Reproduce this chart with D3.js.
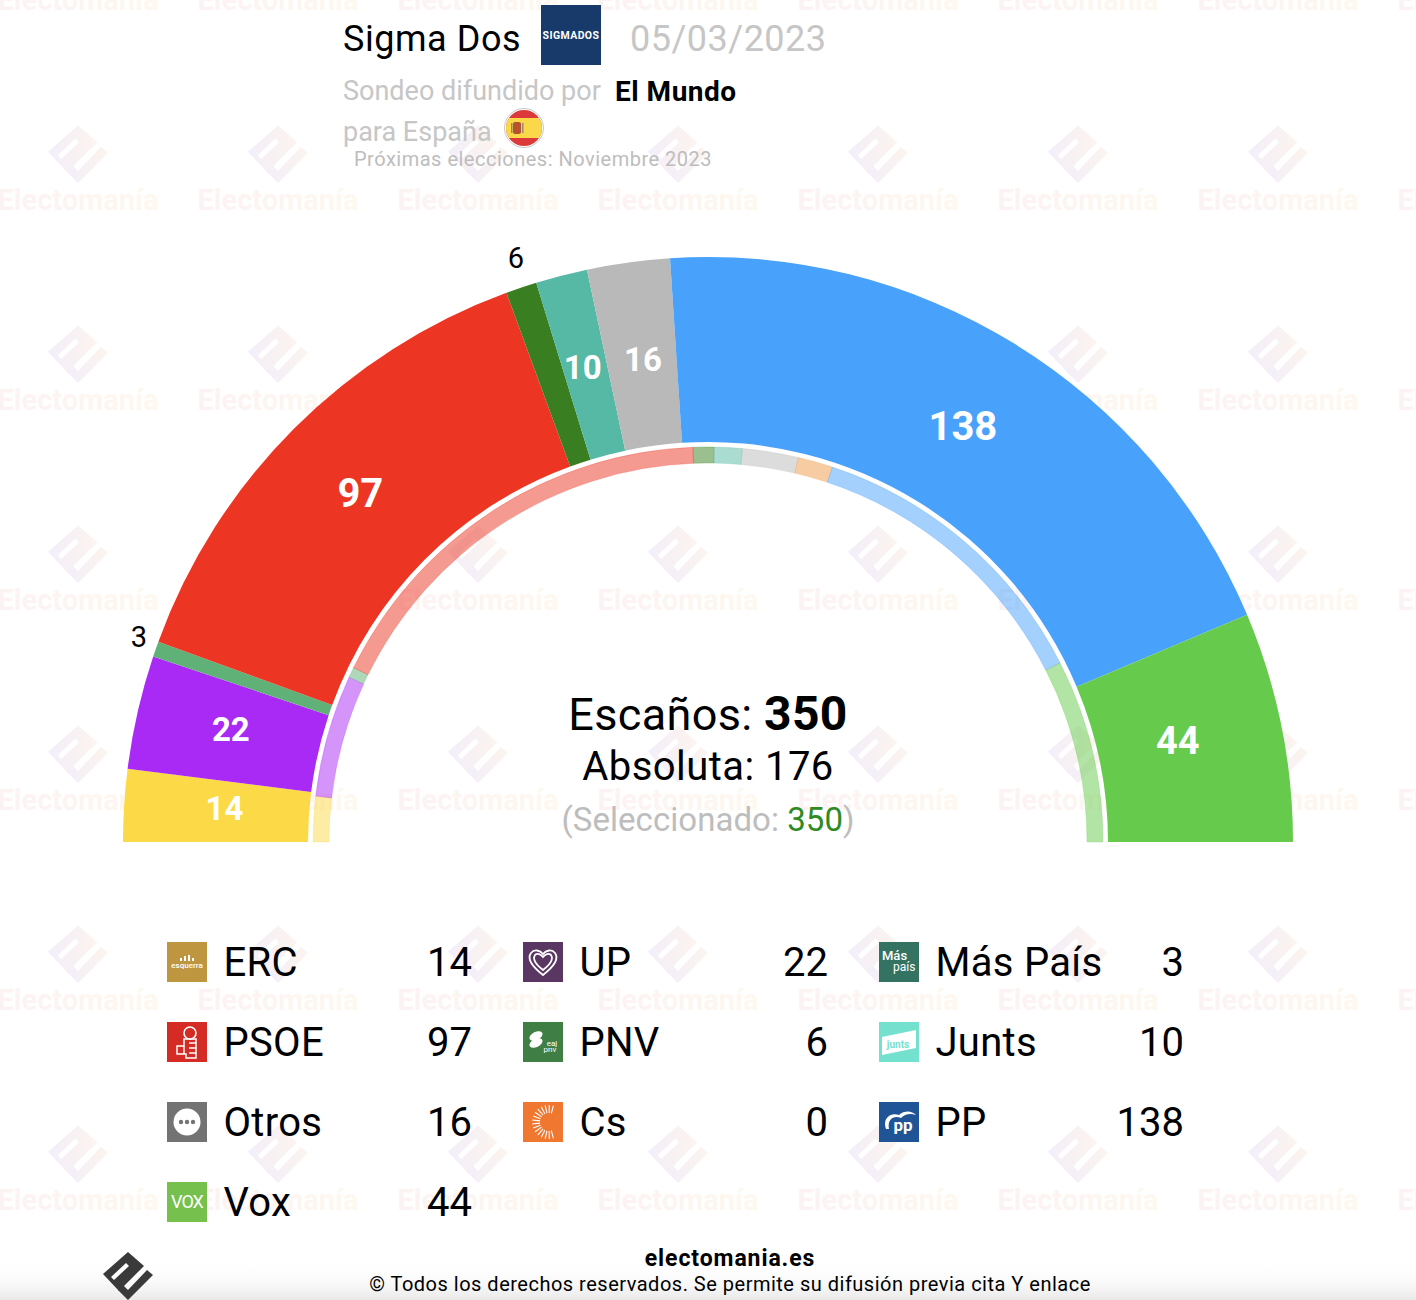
<!DOCTYPE html>
<html><head><meta charset="utf-8">
<script src="https://cdnjs.cloudflare.com/ajax/libs/d3/7.8.5/d3.min.js"></script>
<style>html,body{margin:0;padding:0;background:#fff;overflow:hidden}svg{display:block}text{font-family:Roboto,sans-serif}</style>
</head><body><svg id="c" width="1416" height="1300"></svg>
<script>
const parties   = ["ERC","UP","Más País","PSOE","PNV","Junts","Otros","Cs","PP","Vox"];
const seats     = [14,22,3,97,6,10,16,0,138,44];
const prevSeats = [13,35,3,120,6,8,16,10,87,52];
const colors    = ["#FBD947","#AA2AF5","#60B178","#EC3523","#397F22","#56B9A6","#B9B9B9","#F29A45","#48A1FA","#66CB4C"];
const legendCols = [["ERC","PSOE","Otros","Vox"],["UP","PNV","Cs"],["Más País","Junts","PP"]];
const totalSeats = 350, majority = 176;

const svg = d3.select("#c"), W = 1416, H = 1300;
const defs = svg.append("defs");
function grad(id,c1,c2){const g=defs.append("linearGradient").attr("id",id);
  g.append("stop").attr("offset",0).attr("stop-color",c1);g.append("stop").attr("offset",1).attr("stop-color",c2);}
grad("wmT","#fcf2f3","#fef8ef");
grad("wmI","#f3eefa","#fcf4ee");
const fade=defs.append("linearGradient").attr("id","fade").attr("x1",0).attr("x2",0).attr("y1",0).attr("y2",1);
fade.append("stop").attr("offset",0).attr("stop-color","#fff").attr("stop-opacity",0);
fade.append("stop").attr("offset",1).attr("stop-color","#e9e9e9");

const mainPts="0,-23 -25,-1 -9,16 16,-9";
const slotPts="-17,2 -14,5 1,-9 -2,-12";
const hookPts="19,-5 25,0 0,25 -10,15 -5,10 0,15";
function logoMark(g,fill){
  g.append("path").attr("fill-rule","evenodd").attr("fill",fill)
    .attr("d",`M${mainPts.replace(/ /g,"L")}Z M${slotPts.replace(/ /g,"L")}Z`);
  g.append("polygon").attr("points",hookPts).attr("fill",fill);
}
// watermark grid
const wmX=d3.range(-122,1500,200), wmY=d3.range(-47,1300,200);
const wm=svg.append("g");
wmY.forEach(y=>wmX.forEach(x=>{
  const g=wm.append("g").attr("transform",`translate(${x},${y}) scale(1.2)`);
  logoMark(g,"url(#wmI)");
  wm.append("text").attr("x",x).attr("y",y+57).attr("text-anchor","middle")
    .attr("font-size",29).attr("font-weight",700).attr("fill","url(#wmT)").text("Electomanía");
}));
svg.append("rect").attr("x",0).attr("y",1262).attr("width",W).attr("height",38).attr("fill","url(#fade)");

// hemicycle
const cx=708, cy=842, drift=0.0044;
const pie=d3.pie().sort(null).startAngle(-Math.PI/2).endAngle(Math.PI/2-drift);
const closeBase=a=>{a[a.length-1].endAngle=Math.PI/2;return a;};
const outerArc=d3.arc().innerRadius(400).outerRadius(585);
const ringArc=d3.arc().innerRadius(379).outerRadius(395);
const chart=svg.append("g").attr("transform",`translate(${cx},${cy})`);
const outer=closeBase(pie(seats));
chart.selectAll("path.o").data(outer).join("path").attr("class","o")
  .attr("d",outerArc).attr("fill",(d,i)=>colors[i]);
chart.selectAll("path.r").data(closeBase(pie(prevSeats))).join("path").attr("class","r")
  .attr("d",ringArc).attr("fill",(d,i)=>colors[i]).attr("fill-opacity",.5)
  .attr("stroke",(d,i)=>colors[i]).attr("stroke-opacity",.25).attr("stroke-width",1);

const nudge={ERC:[8,-3],UP:[3,-3],"Más País":[2,-5],PSOE:[1,-1],Junts:[-2,2],Otros:[2,5],PP:[-4,3],Vox:[-13,-3],PNV:[1,-11]};
const labelR=d3.arc().innerRadius(400).outerRadius(585);
const outR=d3.arc().innerRadius(605).outerRadius(605);
outer.forEach((d,i)=>{
  if(!seats[i]) return;
  const small=seats[i]<10;
  const [x,y]=(small?outR:labelR).centroid(d);
  const [nx,ny]=nudge[parties[i]]||[0,0];
  chart.append("text").attr("x",x+nx).attr("y",y+ny).attr("text-anchor","middle").attr("dominant-baseline","central")
    .attr("font-size",small?29:(seats[i]>=97?40:(seats[i]>=44?38:33))).attr("font-weight",small?400:700)
    .attr("fill",small?"#000":"#fff").text(seats[i]);
});

// centre
function t(x,y,size,fill,str,o={}){
  return svg.append("text").attr("x",x).attr("y",y).attr("font-size",size).attr("fill",fill)
   .attr("font-weight",o.w||400).attr("text-anchor",o.a||"start").attr("letter-spacing",o.ls||0).text(str);
}
const c1=t(708,730,45,"#000","Escaños: ",{a:"middle",ls:.35}); c1.append("tspan").attr("font-weight",700).attr("font-size",48).text(totalSeats);
t(708,780,40,"#000","Absoluta: "+majority,{a:"middle",ls:.45});
const c3=t(708,831,33,"#bdbdbd","(Seleccionado: ",{a:"middle",ls:.05});
c3.append("tspan").attr("fill","#2f8a1f").text(totalSeats);c3.append("tspan").text(")");

// header
t(343,51,36,"#000","Sigma Dos",{ls:0.55});
svg.append("rect").attr("x",541).attr("y",5).attr("width",60).attr("height",60).attr("fill","#173A6B");
t(571,39,10.5,"#fff","SIGMADOS",{a:"middle",w:700,ls:0.4});
t(630,51,36,"#c6c6c6","05/03/2023",{ls:0.5});
t(343,100,27,"#c6c6c6","Sondeo difundido por");
t(615,101,28,"#000","El Mundo",{w:700,ls:.5});
t(343,141,27,"#c6c6c6","para España");
svg.append("circle").attr("cx",524).attr("cy",128).attr("r",19.5).attr("fill","#fff").attr("stroke","#c8c8c8").attr("stroke-width",1);
const flagClip=defs.append("clipPath").attr("id","fl");flagClip.append("circle").attr("cx",524).attr("cy",128).attr("r",18);
const flag=svg.append("g").attr("clip-path","url(#fl)");
flag.append("rect").attr("x",504).attr("y",108).attr("width",40).attr("height",40).attr("fill","#DC3A3A");
flag.append("rect").attr("x",504).attr("y",118).attr("width",40).attr("height",20).attr("fill","#FAD84A");
flag.append("rect").attr("x",513).attr("y",122).attr("width",8).attr("height",12).attr("rx",2).attr("fill","#B5532F");
flag.append("rect").attr("x",511).attr("y",123).attr("width",1.5).attr("height",10).attr("fill","#9a8a6a");
flag.append("rect").attr("x",522).attr("y",123).attr("width",1.5).attr("height",10).attr("fill","#9a8a6a");
t(354,166,20,"#bdbdbd","Próximas elecciones: Noviembre 2023",{ls:0.5});

// legend
const colX=[167,523,879], rowY=[942,1022,1102,1182], valX=[472,828,1184];
const logoBg={ERC:"#BE9640",UP:"#5A3663","Más País":"#347362",PSOE:"#D42C25",PNV:"#3F7F45",Junts:"#74E0CE",Otros:"#737373",Cs:"#EF7730",PP:"#1F5597",Vox:"#76C04D"};
function logo(name,x,y){
  const g=svg.append("g").attr("transform",`translate(${x},${y})`);
  g.append("rect").attr("width",40).attr("height",40).attr("fill",logoBg[name]);
  const s=(tx,ty,sz,str,o={})=>g.append("text").attr("x",tx).attr("y",ty).attr("font-size",sz).attr("fill",o.f||"#fff").attr("font-weight",o.w||400).attr("text-anchor",o.a||"middle").attr("letter-spacing",o.ls||0).text(str);
  if(name==="ERC"){s(20,26,8,"esquerra",{w:500});
    [[14,3],[18,5],[22,6],[26,3]].forEach(b=>g.append("rect").attr("x",b[0]-1).attr("y",19-b[1]).attr("width",2).attr("height",b[1]).attr("fill","#fff"));}
  if(name==="UP"){["M20 33C6 22 5 15 8 11C11 7 17 8 20 12C23 8 29 7 32 11C35 15 34 22 20 33Z","M20 28C11 21 10 16 12 13C14 11 18 12 20 15C22 12 26 11 28 13C30 16 29 21 20 28Z"]
    .forEach(p=>g.append("path").attr("d",p).attr("fill","none").attr("stroke","#fff").attr("stroke-width",1.8));}
  if(name==="PSOE"){g.append("circle").attr("cx",23).attr("cy",11).attr("r",6).attr("fill","none").attr("stroke","#fff").attr("stroke-width",1.6);
    g.append("path").attr("d","M17 17H29V36H19V32H10V24H17Z M17 24V32 M22 21H29 M22 26H29 M22 31H29").attr("fill","none").attr("stroke","#fff").attr("stroke-width",1.5);}
  if(name==="PNV"){g.append("ellipse").attr("cx",13).attr("cy",14).attr("rx",7).attr("ry",4).attr("fill","#fff").attr("transform","rotate(-25 13 14)");
    g.append("ellipse").attr("cx",13).attr("cy",21).attr("rx",7).attr("ry",4).attr("fill","#fff").attr("transform","rotate(-25 13 21)");
    s(29,24,8,"eaj");s(27,30,8,"pnv");}
  if(name==="Otros"){g.append("circle").attr("cx",20).attr("cy",20).attr("r",13.5).attr("fill","#fff");
    [14,20,26].forEach(c=>g.append("circle").attr("cx",c).attr("cy",20).attr("r",2.2).attr("fill","#737373"));}
  if(name==="Cs"){d3.range(75,286,14).forEach(a=>{const r=a*Math.PI/180;
      g.append("line").attr("x1",26+9*Math.cos(r)).attr("y1",20+9*Math.sin(r))
       .attr("x2",26+17*Math.cos(r)).attr("y2",20+17*Math.sin(r)).attr("stroke","#fff").attr("stroke-width",1.1);});}
  if(name==="Vox") s(20,26,18,"VOX",{ls:-1});
  if(name==="Más País"){s(3,18,13,"Más",{a:"start",w:500});s(14,29,12,"país",{a:"start"});}
  if(name==="Junts"){g.append("polygon").attr("points","3,15 37,8 37,26 3,33").attr("fill","#fff");
    s(19,26,10,"junts",{w:700,f:"#74E0CE"});}
  if(name==="PP"){g.append("path").attr("d","M7 27C3 16 12 10 20 13C26 8 33 9 37 13C31 11 26 12 22 16C16 13 8 16 10 27Z").attr("fill","#fff");
    s(24,29,17,"pp",{w:700});}
}
legendCols.forEach((col,ci)=>col.forEach((name,ri)=>{
  const i=parties.indexOf(name);
  logo(name,colX[ci],rowY[ri]);
  t(colX[ci]+56.5,rowY[ri]+34,40,"#000",name,{ls:.3});
  t(valX[ci],rowY[ri]+34,40,"#000",seats[i],{a:"end"});
}));

// footer
t(730,1266,23,"#000","electomania.es",{a:"middle",w:700,ls:.9});
t(730,1291,20,"#000","© Todos los derechos reservados. Se permite su difusión previa cita Y enlace",{a:"middle",ls:0.5});
logoMark(svg.append("g").attr("transform","translate(128,1275)"),"#3a3a3a");
</script></body></html>
